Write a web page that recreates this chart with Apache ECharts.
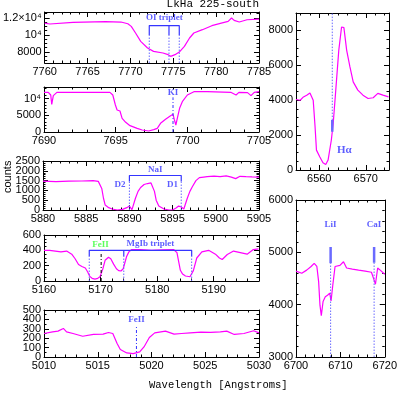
<!DOCTYPE html>
<html>
<head>
<meta charset="utf-8">
<script src="https://cdn.jsdelivr.net/npm/echarts@6/dist/echarts.min.js"></script>
<style>
  html, body { margin: 0; padding: 0; background: #fff; }
  #chart { width: 400px; height: 397px; }
</style>
</head>
<body>
<div id="chart"></div>
<script>
var oiWave = [7760.0, 7760.6, 7763.3, 7767.1, 7768.9, 7769.7, 7770.1, 7770.6, 7771.2, 7772.0, 7772.7, 7773.8, 7774.4, 7774.7, 7775.2, 7775.7, 7776.3, 7776.9, 7777.4, 7778.4, 7779.5, 7780.6, 7781.4, 7781.8, 7782.1, 7782.7, 7783.6, 7785.0];
var oiFlux = [11400, 11290, 11480, 11560, 11520, 11320, 11010, 10230, 9250, 8460, 8070, 7880, 7680, 7480, 7680, 7990, 8660, 9640, 10230, 10620, 11090, 11400, 11600, 11990, 11720, 11520, 11790, 11870];

var kiWave = [7690.0, 7690.3, 7690.47, 7690.54, 7690.65, 7690.9, 7692.75, 7694.6, 7694.8, 7694.98, 7695.1, 7695.3, 7695.45, 7695.7, 7696.0, 7696.5, 7696.85, 7697.3, 7697.66, 7697.9, 7698.13, 7698.48, 7698.83, 7699.0, 7699.1, 7699.2, 7699.3, 7699.46, 7699.65, 7700.0, 7700.46, 7701.4, 7703.03, 7703.4, 7703.6, 7704.2, 7704.44, 7704.67, 7705.0];
var kiFlux = [11900, 11900, 11100, 8300, 10900, 11900, 11900, 11900, 11100, 8100, 6600, 6300, 4100, 2900, 1900, 1100, 600, 300, 700, 1100, 2600, 3800, 4900, 5300, 3600, 2100, 4100, 7100, 9100, 11100, 12100, 12100, 11900, 11100, 11900, 11800, 10900, 11900, 12100];

var naWave = [5880.0, 5881.5, 5883.0, 5884.5, 5885.8, 5886.4, 5886.8, 5887.0, 5887.2, 5887.6, 5888.0, 5888.6, 5889.2, 5889.7, 5890.0, 5890.3, 5890.7, 5891.0, 5891.3, 5891.7, 5892.1, 5892.5, 5892.7, 5892.9, 5893.1, 5893.4, 5894.0, 5894.6, 5895.0, 5895.4, 5895.7, 5896.0, 5896.3, 5896.7, 5897.0, 5897.3, 5897.7, 5898.1, 5898.6, 5899.0, 5899.8, 5900.5, 5901.2, 5901.8, 5902.3, 5902.8, 5903.5, 5904.2, 5905.0];
var naFlux = [1470, 1450, 1470, 1480, 1500, 1460, 1100, 600, 250, 120, 50, 0, 30, 120, 200, 20, 600, 950, 1150, 1300, 1350, 1380, 1330, 950, 500, 200, 50, 0, 0, 100, 200, 150, 50, 600, 950, 1200, 1500, 1650, 1680, 1700, 1730, 1700, 1740, 1680, 1600, 1720, 1700, 1690, 1680];

var mgWave = [5160.0, 5161.0, 5162.0, 5163.0, 5164.0, 5164.9, 5165.5, 5166.1, 5166.7, 5167.3, 5167.7, 5168.1, 5168.5, 5169.0, 5169.5, 5169.9, 5170.4, 5170.8, 5171.4, 5171.8, 5172.3, 5172.8, 5173.2, 5173.6, 5174.0, 5174.6, 5175.0, 5175.5, 5177.0, 5179.0, 5181.0, 5182.9, 5183.5, 5184.1, 5184.5, 5185.0, 5185.8, 5186.4, 5187.0, 5187.9, 5189.1, 5190.3, 5191.0, 5191.5, 5192.4, 5193.5, 5194.7, 5195.9, 5197.0, 5197.9];
var mgFlux = [400, 400, 390, 380, 390, 350, 290, 215, 190, 170, 120, 60, 35, 25, 35, 55, 160, 270, 310, 290, 220, 160, 135, 130, 160, 320, 380, 410, 410, 400, 405, 410, 370, 140, 90, 65, 55, 135, 300, 380, 400, 350, 300, 280, 345, 390, 370, 350, 410, 420];

var feWave = [5010.0, 5010.8, 5011.3, 5011.8, 5012.1, 5012.7, 5013.6, 5014.6, 5015.5, 5016.0, 5016.4, 5016.6, 5016.8, 5017.1, 5017.7, 5018.3, 5018.9, 5019.3, 5019.8, 5020.3, 5021.3, 5022.1, 5022.8, 5023.6, 5024.6, 5025.5, 5026.4, 5027.0, 5027.7, 5028.6, 5029.5, 5030.0];
var feFlux = [250, 268, 275, 304, 268, 250, 221, 240, 243, 261, 250, 196, 143, 79, 43, 36, 54, 107, 207, 257, 275, 243, 250, 257, 264, 261, 268, 275, 240, 250, 279, 257];

var haWave = [6555.0, 6555.9, 6556.6, 6557.3, 6558.0, 6558.4, 6558.7, 6559.1, 6559.4, 6560.1, 6560.8, 6561.4, 6561.9, 6562.6, 6563.0, 6563.5, 6564.2, 6564.8, 6565.3, 6565.9, 6566.6, 6567.3, 6568.3, 6569.4, 6570.5, 6571.6, 6572.6, 6573.7, 6574.9];
var haFlux = [4040, 4000, 4190, 4290, 4420, 4350, 4000, 2480, 1140, 760, 420, 320, 570, 1720, 2670, 4390, 6860, 8200, 8160, 6860, 5910, 5050, 4580, 4290, 4100, 4140, 4390, 4290, 4190];

var liWave = [6700.0, 6701.3, 6702.4, 6703.4, 6704.1, 6704.7, 6705.1, 6705.4, 6705.7, 6706.1, 6706.6, 6707.1, 6707.6, 6707.9, 6708.3, 6708.8, 6709.9, 6710.7, 6711.4, 6712.7, 6714.1, 6715.6, 6717.0, 6717.6, 6717.9, 6718.4, 6719.1, 6720.0];
var liFlux = [4640, 4600, 4660, 4730, 4790, 4730, 4440, 3990, 3790, 4060, 4150, 4180, 4220, 4070, 4380, 4730, 4750, 4820, 4700, 4680, 4660, 4640, 4620, 4470, 4390, 4700, 4650, 4580];

/* ------------------------------ line markers ------------------------------- */
var oiLines = [7772.2, 7774.5, 7775.7];
var naLines = [5890.0, 5896.0];
var mgLines = [5168.0, 5174.1, 5186.1];
var kiLine = 7699.0;
var feGreenLine = 5170.1;
var fe5018Line = 5018.6;
var haLine = 6562.8;
var liLine = 6707.8;
var caLine = 6717.6;

/* ----------------------------- axis ranges --------------------------------- */
// [min, max, major step, minor step]
var oiX = [7760, 7785, 5, 1],  oiY = [6700, 12700, 2000, 500];
var kiX = [7690, 7705, 5, 1],  kiY = [0, 13500, 5000, 1000];
var naX = [5880, 5905, 5, 1],  naY = [0, 2500, 500, 100];
var mgX = [5160, 5198, 10, 2], mgY = [0, 600, 200, 50];
var feX = [5010, 5030, 5, 1],  feY = [0, 500, 100, 50];
var haX = [6555, 6575, 10, 2], haY = [0, 9000, 2000, 500];
var liX = [6700, 6720, 10, 2], liY = [3000, 6000, 1000, 200];

var MAG = '#ff00ff';
var BLUE = '#3535ff';
var BLUE_DOT = '#6a6aff';
var TICK_FONT = '"Liberation Sans Narrow", "Liberation Sans", sans-serif';
var NOTE_FONT = '"Liberation Serif", serif';

function tenFmt(v) {
  if (v === 12000) return '1.2\u00d710\u2074';
  if (v === 10000) return '10\u2074';
  return String(v);
}

var panels = [
  { grid: { left: 38, top: 12, width: 221, height: 51 },  x: oiX, y: oiY, yfmt: tenFmt },
  { grid: { left: 44, top: 87, width: 215, height: 45 },  x: kiX, y: kiY, yfmt: tenFmt },
  { grid: { left: 43, top: 161, width: 216, height: 49 }, x: naX, y: naY },
  { grid: { left: 44, top: 235, width: 215, height: 46 }, x: mgX, y: mgY },
  { grid: { left: 44, top: 310, width: 215, height: 47 }, x: feX, y: feY },
  { grid: { left: 296, top: 13, width: 93, height: 157 }, x: haX, y: haY },
  { grid: { left: 296, top: 200, width: 93, height: 157 }, x: liX, y: liY }
];

function steps(min, max, step) {
  var out = [];
  var v = Math.ceil(min / step - 1e-9) * step;
  for (; v <= max + 1e-9; v += step) out.push(+v.toFixed(6));
  return out;
}

// labels are split between the major and the minor axis (every other one),
// so that the library never drops closely packed labels
function makeAxis(gi, r, pos, minor, fmt) {
  var labelled = pos === 'bottom' || pos === 'left';
  var majors = steps(r[0], r[1], r[2]);
  var labelVals = majors.filter(function (v, k) { return (k % 2 === 1) === minor; });
  return {
    type: 'value',
    gridIndex: gi,
    min: r[0],
    max: r[1],
    position: pos,
    axisLine: { show: !minor, onZero: false, lineStyle: { color: '#000', width: 1 } },
    splitLine: { show: false },
    axisPointer: { show: false },
    axisTick: {
      show: true,
      inside: true,
      length: minor ? 2.5 : 5,
      customValues: steps(r[0], r[1], minor ? r[3] : r[2]),
      lineStyle: { color: '#000', width: 1 }
    },
    axisLabel: {
      show: labelled && labelVals.length > 0,
      customValues: labelVals,
      showMinLabel: true,
      showMaxLabel: true,
      hideOverlap: false,
      margin: 3,
      color: '#000',
      fontFamily: TICK_FONT,
      fontSize: 11,
      formatter: fmt || function (v) { return String(v); }
    }
  };
}

var grids = [], xAxes = [], yAxes = [], series = [];

panels.forEach(function (p, i) {
  grids.push(p.grid);
  xAxes.push(makeAxis(i, p.x, 'bottom', false));
  xAxes.push(makeAxis(i, p.x, 'top', false));
  xAxes.push(makeAxis(i, p.x, 'bottom', true));
  xAxes.push(makeAxis(i, p.x, 'top', true));
  yAxes.push(makeAxis(i, p.y, 'left', false, p.yfmt));
  yAxes.push(makeAxis(i, p.y, 'right', false));
  yAxes.push(makeAxis(i, p.y, 'left', true, p.yfmt));
  yAxes.push(makeAxis(i, p.y, 'right', true));
});

function zip(xs, ys) { return xs.map(function (x, k) { return [x, ys[k]]; }); }

function spectrum(i, xs, ys) {
  series.push({
    type: 'line', xAxisIndex: 4 * i, yAxisIndex: 4 * i,
    data: zip(xs, ys), showSymbol: false, silent: true, z: 5,
    lineStyle: { color: MAG, width: 1.2 }
  });
}

function seg(i, pts, color, type, width) {
  series.push({
    type: 'line', xAxisIndex: 4 * i, yAxisIndex: 4 * i,
    data: pts, showSymbol: false, silent: true, z: 6,
    lineStyle: { color: color, type: type, width: width || 1 }
  });
}

function note(i, x, y, text, color, size) {
  series.push({
    type: 'scatter', xAxisIndex: 4 * i, yAxisIndex: 4 * i,
    symbolSize: 0, silent: true, z: 7,
    data: [[x, y]],
    label: {
      show: true, position: 'inside', formatter: text,
      color: color || BLUE, fontFamily: NOTE_FONT, fontWeight: 'bold', fontSize: size || 9
    }
  });
}

var DOT = [1.5, 1.5];
var DASHDOT = [3, 2, 1, 2];

// OI triplet
spectrum(0, oiWave, oiFlux);
seg(0, [[oiLines[0], 10000], [oiLines[0], 11100], [oiLines[2], 11100], [oiLines[2], 10000]], BLUE, 'solid', 1.2);
seg(0, [[oiLines[1], 10000], [oiLines[1], 11100]], BLUE, 'solid', 1.2);
oiLines.forEach(function (w) { seg(0, [[w, oiY[0]], [w, 10000]], BLUE_DOT, DOT, 1); });
note(0, 7773.95, 12050, 'OI triplet');

// KI
spectrum(1, kiWave, kiFlux);
seg(1, [[kiLine, 0], [kiLine, 10400]], BLUE, DASHDOT, 1);
note(1, kiLine, 11650, 'KI');

// NaI D
spectrum(2, naWave, naFlux);
seg(2, [[naLines[0], 1450], [naLines[0], 1760], [naLines[1], 1760], [naLines[1], 1450]], BLUE, 'solid', 1.2);
naLines.forEach(function (w) { seg(2, [[w, 0], [w, 1450]], BLUE_DOT, DOT, 1); });
note(2, 5893.0, 2040, 'NaI');
note(2, 5888.9, 1310, 'D2');
note(2, 5895.0, 1310, 'D1');

// MgIb triplet + FeII
spectrum(3, mgWave, mgFlux);
seg(3, [[mgLines[0], 320], [mgLines[0], 400], [mgLines[2], 400], [mgLines[2], 320]], BLUE, 'solid', 1.2);
seg(3, [[mgLines[1], 320], [mgLines[1], 400]], BLUE, 'solid', 1.2);
mgLines.forEach(function (w) { seg(3, [[w, 0], [w, 320]], BLUE_DOT, DOT, 1); });
seg(3, [[feGreenLine, 0], [feGreenLine, 365]], '#000', DASHDOT, 1);
note(3, 5178.8, 492, 'MgIb triplet');
note(3, 5170.0, 470, 'FeII', '#33ff33');

// FeII 5018
spectrum(4, feWave, feFlux);
seg(4, [[fe5018Line, 0], [fe5018Line, 320]], BLUE, DASHDOT, 1);
note(4, fe5018Line, 395, 'FeII');

// H alpha
spectrum(5, haWave, haFlux);
seg(5, [[haLine, 2860], [haLine, haY[1]]], BLUE_DOT, DOT, 1);
seg(5, [[haLine, 2190], [haLine, 2860]], BLUE_DOT, 'solid', 2.5);
note(5, 6565.4, 1140, 'H\u03b1', BLUE, 11);

// LiI, CaI
spectrum(6, liWave, liFlux);
seg(6, [[liLine, liY[0]], [liLine, 4790]], BLUE_DOT, DOT, 1);
seg(6, [[liLine, 4790], [liLine, 5100]], BLUE_DOT, 'solid', 2.5);
seg(6, [[caLine, liY[0]], [caLine, 4800]], BLUE_DOT, DOT, 1);
seg(6, [[caLine, 4800], [caLine, 5100]], BLUE_DOT, 'solid', 2.5);
note(6, liLine, 5520, 'LiI');
note(6, caLine, 5520, 'CaI');

var myChart = echarts.init(document.getElementById('chart'));
var option = {
  animation: false,
  backgroundColor: '#fff',
  grid: grids,
  xAxis: xAxes,
  yAxis: yAxes,
  series: series,
  graphic: [
    { type: 'text', right: 141, top: -1,
      style: { text: 'LkHa 225-south', fill: '#000', font: '11px "Liberation Mono", monospace' } },
    { type: 'text', left: 149, top: 380,
      style: { text: 'Wavelength [Angstroms]', fill: '#000', font: '10.5px "Liberation Mono", monospace' } },
    { type: 'text', x: 2, y: 193, rotation: Math.PI / 2,
      style: { text: 'counts', fill: '#000', font: '11px "Liberation Sans Narrow", sans-serif' } }
  ]
};
option && myChart.setOption(option);
</script>
</body>
</html>
